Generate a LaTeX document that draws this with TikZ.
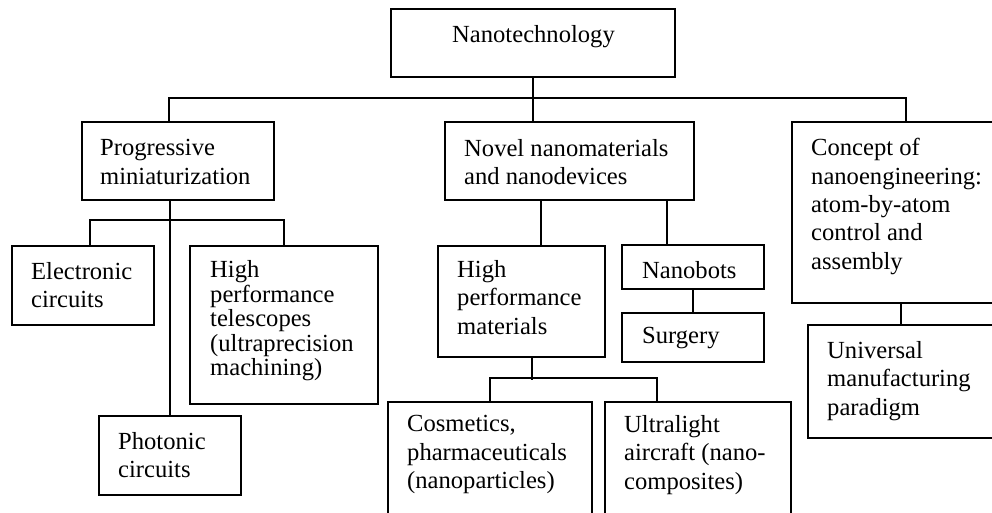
\documentclass[tikz,border=0pt]{standalone}
\usepackage{fontspec}
\setmainfont{Liberation Serif}
\tikzset{
  box/.style={draw=black, line width=1.8pt, inner sep=0pt, rectangle},
  lbl/.style={anchor=north west, inner sep=0pt, align=left, text=black,
    font=\fontsize{24.6}{28.4}\selectfont},
  tight/.style={font=\fontsize{24.6}{24.6}\selectfont},
  conn/.style={draw=black, line width=1.8pt}
}
\newcommand\mybox[5]{\node[box, minimum width={(#4)-(#2)}, minimum height={(#5)-(#3)}] (#1) at ({((#2)+(#4))/2},{((#3)+(#5))/2}) {};}
\begin{document}
\begin{tikzpicture}[x=1pt,y=-1pt]
\useasboundingbox (0,0) rectangle (992,512);
\clip (0,0) rectangle (992,512);
\fill[white] (0,0) rectangle (992,512);
% boxes
\mybox{nano}{391}{9}{675}{77}
\mybox{prog}{82}{122}{274}{200}
\mybox{novel}{445}{122}{694}{200}
\mybox{conc}{792}{122}{1012}{303}
\mybox{elec}{12}{246}{154}{325}
\mybox{tele}{190}{246}{378}{404}
\mybox{phot}{99}{416}{241}{495}
\mybox{hpm}{438}{246}{605}{357}
\mybox{nbot}{622}{245}{764}{289}
\mybox{surg}{622}{313}{764}{362}
\mybox{cosm}{388}{402}{592}{530}
\mybox{ultra}{605}{402}{791}{530}
\mybox{univ}{808}{325}{1012}{438}
% texts
\node[lbl] (tnano) at (452,{42-16.8}) {Nanotechnology};
\node[lbl] (tprog) at (100,{156-16.8}) {Progressive\\miniaturization};
\node[lbl] (tnovel) at (464,{156-16.8}) {Novel nanomaterials\\and nanodevices};
\node[lbl] (tconc) at (811,{155-16.8}) {Concept of\\nanoengineering:\\atom-by-atom\\control and\\assembly};
\node[lbl] (telec) at (31,{279-16.8}) {Electronic\\circuits};
\node[lbl,tight] (ttele) at (210,{277-16.8}) {High\\performance\\telescopes\\(ultraprecision\\machining)};
\node[lbl] (thpm) at (457,{277-16.8}) {High\\performance\\materials};
\node[lbl] (tnbot) at (642,{278-16.8}) {Nanobots};
\node[lbl] (tsurg) at (642,{344-16.8}) {Surgery};
\node[lbl] (tphot) at (118,{449-16.8}) {Photonic\\circuits};
\node[lbl] (tcosm) at (407,{432-16.8}) {Cosmetics,\\pharmaceuticals\\(nanoparticles)};
\node[lbl] (tultra) at (624,{432-16.8}) {Ultralight\\aircraft (nano-\\composites)};
\node[lbl] (tuniv) at (827,{358-16.8}) {Universal\\manufacturing\\paradigm};
% connectors
\draw[conn] (nano.south) -- (nano.south |- novel.north);
\coordinate (p1) at ([xshift=88pt]prog.north west);
\coordinate (c1) at ([xshift=115pt]conc.north west);
\draw[conn] (p1) -- ++(0,-23) -| (c1);
\draw[conn] (phot.north) -- (phot.north |- prog.south);
\coordinate (e1) at ([xshift=79pt]elec.north west);
\draw[conn] (e1) -- ++(0,-25) -| (tele.north);
\coordinate (h1) at ([xshift=104pt]hpm.north west);
\draw[conn] (h1) -- (h1 |- novel.south);
\coordinate (n1) at ([xshift=46pt]nbot.north west);
\draw[conn] (n1) -- (n1 |- novel.south);
\draw[conn] (nbot.south) -- (surg.north);
\coordinate (h2) at ([xshift=95pt]hpm.south west);
\draw[conn] (h2) -- ++(0,22);
\coordinate (u1) at ([xshift=53pt]ultra.north west);
\draw[conn] (cosm.north) -- ++(0,-23) -| (u1);
\coordinate (v1) at ([xshift=94pt]univ.north west);
\draw[conn] (v1) -- (v1 |- conc.south);
\end{tikzpicture}
\end{document}
